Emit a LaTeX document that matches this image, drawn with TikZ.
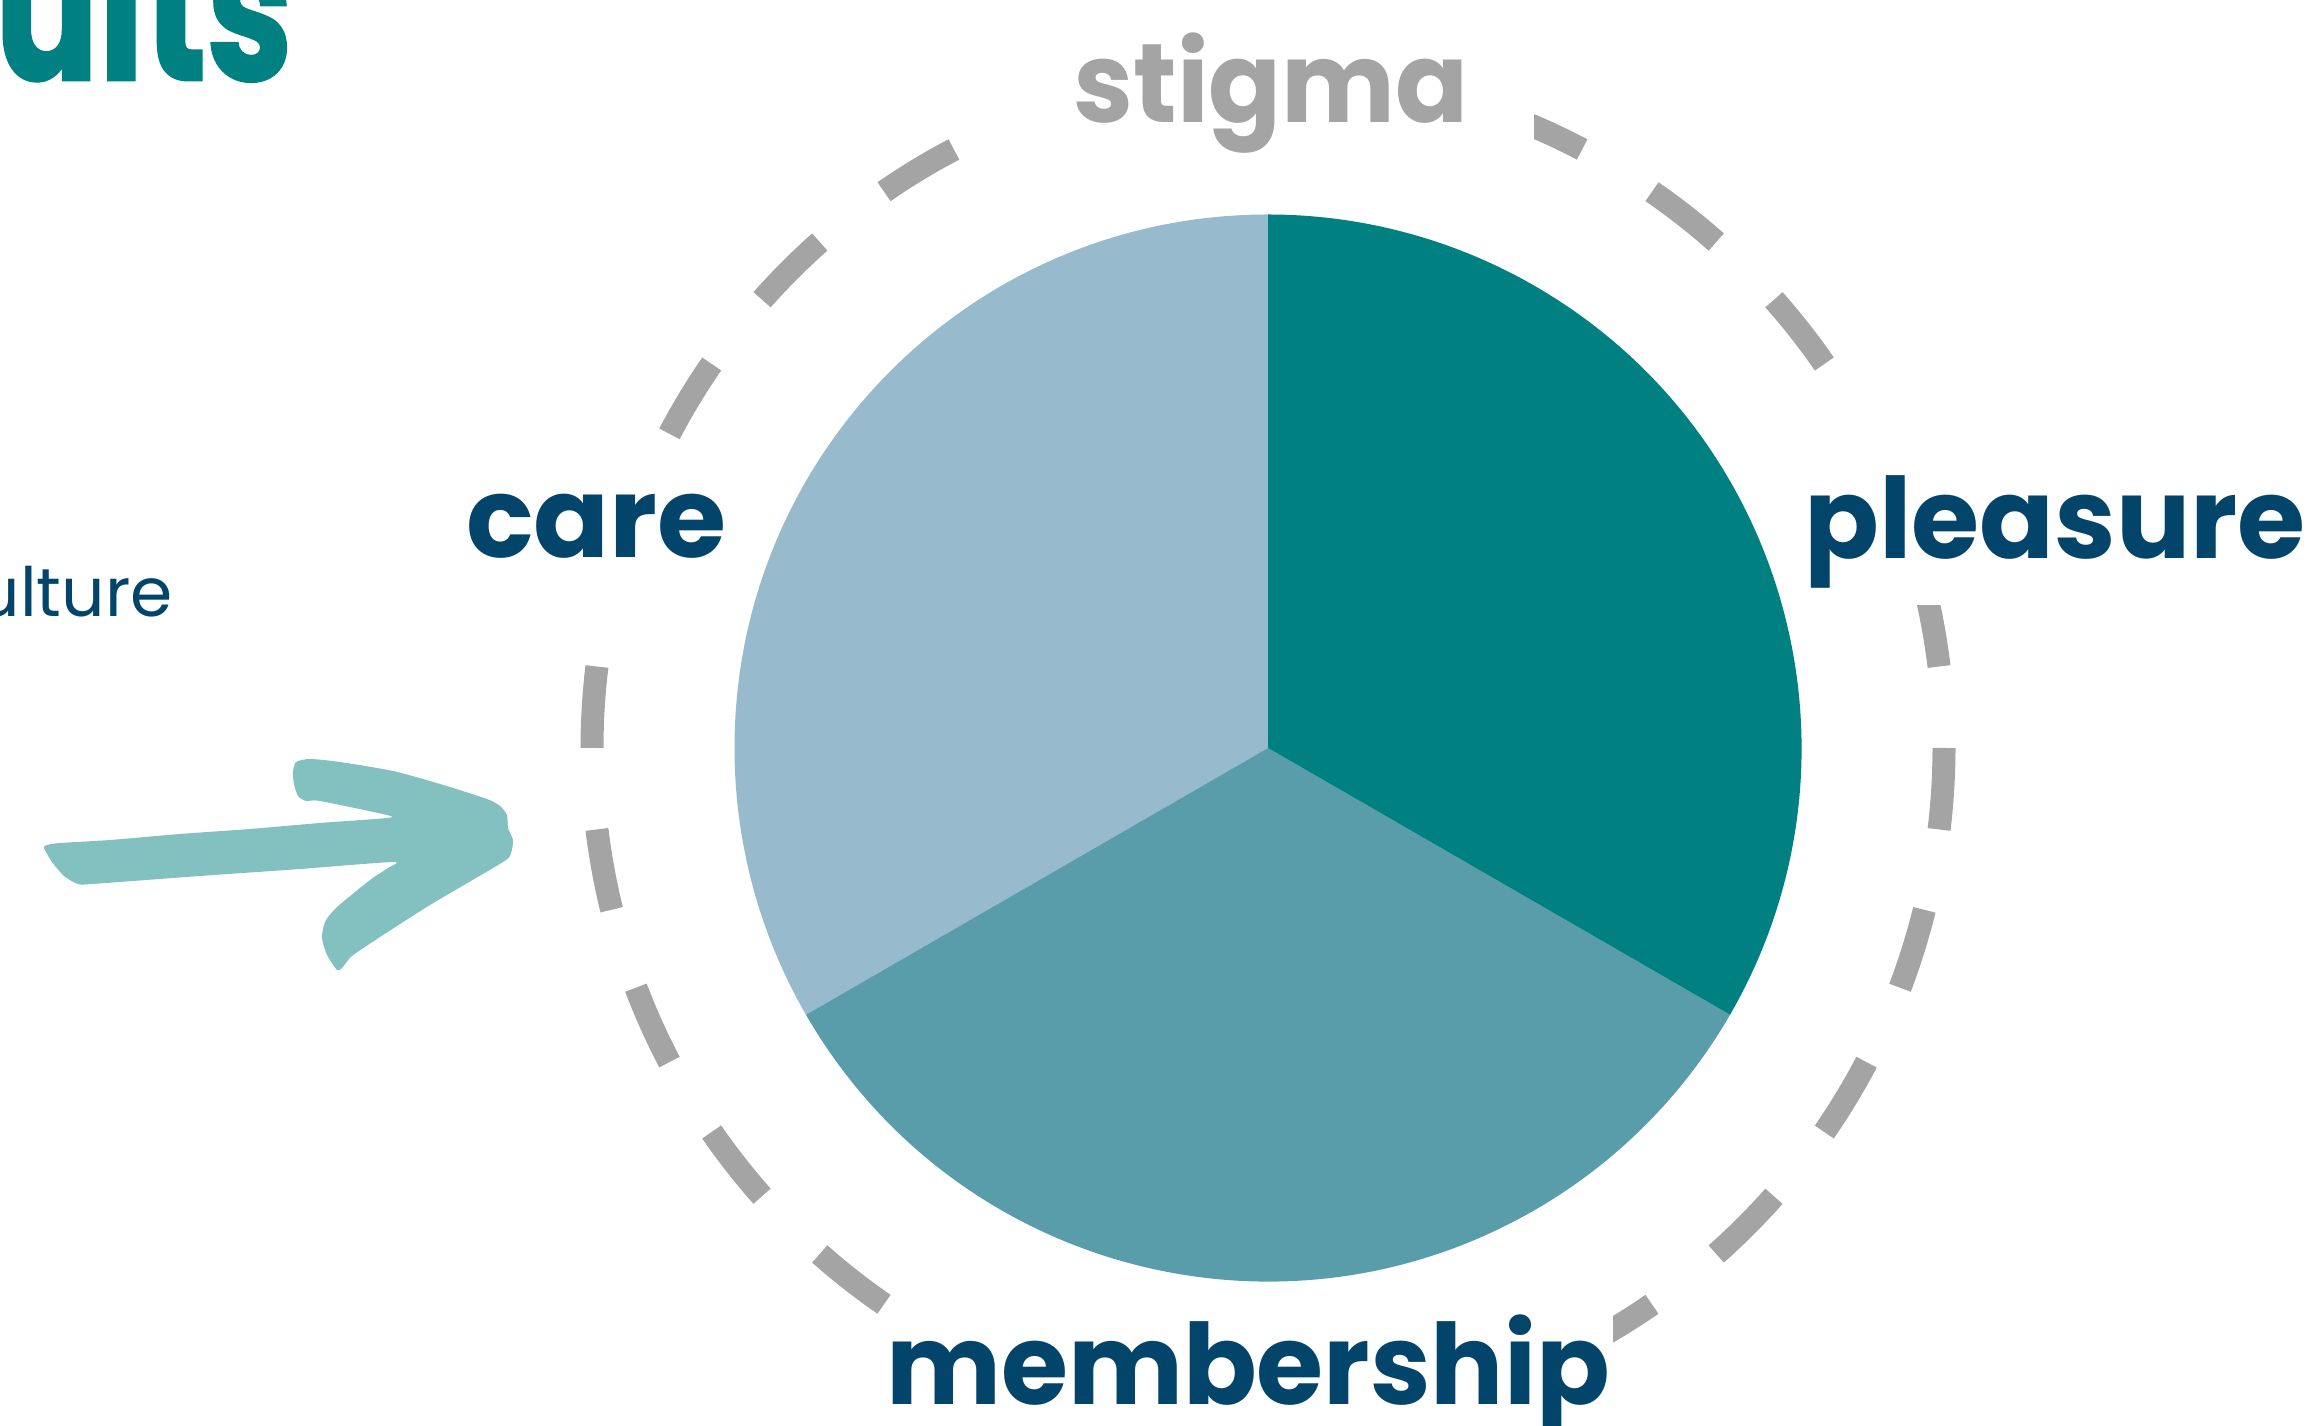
\documentclass[tikz,border=0pt]{standalone}
\usepackage{fontspec}
\setmainfont{Poppins}
\newfontfamily\resfont{Poppins}[BoldFeatures={FakeBold=1.5}]
\usetikzlibrary{calc}
\definecolor{tealA}{HTML}{008080}
\definecolor{lightB}{HTML}{97BACD}
\definecolor{midB}{HTML}{5A9DAA}
\definecolor{darkB}{HTML}{03456A}
\definecolor{grayD}{HTML}{A4A4A4}
\definecolor{arrowC}{HTML}{83C0C0}
\tikzset{
  lbl/.style={font=\fontsize{56}{56}\selectfont\bfseries, text=darkB, fill=white, anchor=base},
  dashseg/.style={draw=grayD, line width=11.5pt, line cap=butt},
}
\begin{document}
\begin{tikzpicture}[x=0.5pt,y=0.5pt]
\useasboundingbox (0,0) rectangle (2314,1425);
\clip (0,0) rectangle (2314,1425);
\coordinate (C) at (1268,677);
% dashed ring
\foreach \k in {0,...,25}{
  \draw[dashseg] (C) ++({\k*13.846-6.923}:676) arc[start angle={\k*13.846-6.923}, delta angle=6.923, radius=676];
}
% labels with white backing
\node[lbl, text=grayD, inner xsep=32.5pt, inner ysep=5pt] (stigma) at (1271,1302) {\scalebox{0.96}[1]{stigma}};
\node[lbl, inner xsep=5pt, inner ysep=17.5pt] (care) at (596.5,867) {care};
\node[lbl, inner xsep=6pt, inner ysep=8pt, text height=62pt] (pleasure) at (2055,866) {\scalebox{0.985}[1]{pleasure}};
\node[lbl, inner xsep=1.5pt, inner ysep=4pt] (membership) at (1248,20) {\scalebox{0.97}[1]{membership}};
% pie
\fill[lightB] (C) -- ++(90:533.5) arc[start angle=90, end angle=210, radius=533.5] -- cycle;
\fill[midB] (C) -- ++(210:533.5) arc[start angle=210, end angle=330, radius=533.5] -- cycle;
\fill[tealA] (C) -- ++(-30:533.5) arc[start angle=-30, end angle=90, radius=533.5] -- cycle;
% cut-off texts on the left
\node[anchor=base east, inner sep=0, text=darkB, font=\fontsize{34}{34}\selectfont] (culture) at (173,808) {culture};
\node[anchor=base east, inner sep=0, text=tealA] (results) at (293,1345) {\scalebox{0.77}[1]{\fontsize{100}{100}\resfont\bfseries results}};
% brush arrow (points in px from top-left, y flipped)
\fill[arrowC] plot[smooth cycle, tension=0.4] coordinates {
 (44,{1425-848}) (52,{1425-862}) (64,{1425-876}) (78,{1425-884}) (92,{1425-884})
 (200,{1425-876}) (300,{1425-869}) (393,{1425-862})
 (388,{1425-868}) (370,{1425-880}) (336,{1425-908}) (325,{1425-922}) (322,{1425-938})
 (327,{1425-955}) (337,{1425-970}) (342,{1425-968}) (352,{1425-956}) (380,{1425-937})
 (430,{1425-905}) (503,{1425-862})
 (511,{1425-853}) (513,{1425-840}) (508,{1425-828}) (507,{1425-815}) (500,{1425-806}) (487,{1425-799})
 (440,{1425-784}) (393,{1425-771}) (340,{1425-762}) (310,{1425-759}) (296,{1425-762})
 (293,{1425-772}) (294,{1425-784}) (298,{1425-796}) (306,{1425-801}) (320,{1425-801})
 (387,{1425-815}) (387,{1425-818})
 (320,{1425-823}) (250,{1425-829}) (180,{1425-834}) (110,{1425-840}) (60,{1425-843}) (47,{1425-845})};
\end{tikzpicture}
\end{document}
